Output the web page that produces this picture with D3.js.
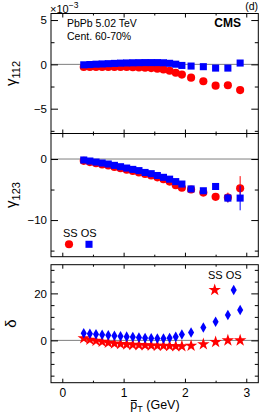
<!DOCTYPE html>
<html><head><meta charset="utf-8">
<script src="https://cdn.jsdelivr.net/npm/d3@7"></script>
<style>body{margin:0;background:#fff}svg{display:block;font-family:"Liberation Sans",Arial,sans-serif}</style>
</head><body>
<svg id="c" width="266" height="418"></svg>
<script>
// ---- data ----
const pt = [0.35,0.45,0.55,0.65,0.75,0.85,0.95,1.05,1.15,1.25,1.35,1.45,1.55,1.65,1.75,1.85,1.95,2.1,2.3,2.5,2.7,2.9];
const g112SS = [-0.3,-0.3,-0.3,-0.3,-0.3,-0.3,-0.3,-0.3,-0.32,-0.35,-0.38,-0.42,-0.48,-0.58,-0.72,-0.95,-1.15,-1.5,-1.9,-2.4,-2.35,-2.9];
const g112OS = [-0.05,-0.02,0.02,0.05,0.08,0.11,0.14,0.16,0.18,0.19,0.2,0.2,0.2,0.18,0.12,0.02,-0.12,-0.19,-0.26,-0.42,-0.42,0.15];
const g112Err = [0.02,0.02,0.02,0.02,0.02,0.02,0.02,0.02,0.02,0.03,0.03,0.03,0.03,0.04,0.04,0.05,0.05,0.06,0.08,0.1,0.15,0.25];
const g123SS = [-0.3,-0.5,-0.7,-0.9,-1.05,-1.3,-1.5,-1.75,-1.95,-2.2,-2.45,-2.7,-3.0,-3.3,-3.7,-4.3,-4.7,-5.0,-5.5,-6.2,-6.3,-4.8];
const g123OS = [-0.16,-0.33,-0.5,-0.66,-0.82,-1.04,-1.26,-1.48,-1.7,-1.9,-2.2,-2.4,-2.7,-3.0,-3.3,-3.7,-4.1,-4.9,-5.2,-4.5,-6.4,-6.4];
const g123ErrSS = [0.05,0.05,0.05,0.05,0.05,0.05,0.06,0.06,0.07,0.08,0.09,0.1,0.11,0.12,0.14,0.16,0.2,0.25,0.3,0.5,0.8,2.0];
const g123ErrOS = [0.05,0.05,0.05,0.05,0.05,0.05,0.06,0.06,0.07,0.08,0.09,0.1,0.11,0.12,0.14,0.16,0.2,0.25,0.3,0.5,0.7,2.0];
const deltaSS = [0.9,0.3,-0.2,-0.6,-1.0,-1.3,-1.5,-1.7,-1.9,-2.0,-2.1,-2.2,-2.3,-2.3,-2.4,-2.5,-2.5,-2.3,-1.6,-0.7,0.0,0.0];
const deltaOS = [3.0,2.8,2.6,2.4,2.2,2.0,1.8,1.6,1.4,1.2,1.0,0.9,0.8,0.8,1.0,1.5,2.5,3.4,5.5,7.9,10.8,12.9];
const xTicks = [0,1,2,3];
const legendLabels = ["SS","OS"];

const svg = d3.select("#c");
const L = 51, R = 258.3;
const x = d3.scaleLinear().domain([-0.184,3.196]).range([L,R]);
const RED = "#ff0000", BLUE = "#0000ff";
const SZ = {circle:52, square:50, star:48, diamond:32};

const panels = [
  {top:13.5, bot:133.5, dom:[-7.8,5.74], major:[-5,0,5], minorStep:2.5, title:["γ","112"], ty:73.5,
   series:[{v:g112SS,e:g112Err,c:RED,s:d3.symbolCircle,sz:SZ.circle},{v:g112OS,e:g112Err,c:BLUE,s:d3.symbolSquare,sz:SZ.square}]},
  {top:133.5, bot:256.7, dom:[-16.0,4.18], major:[-10,0], minorStep:5, title:["γ","123"], ty:195,
   series:[{v:g123SS,e:g123ErrSS,c:RED,s:d3.symbolCircle,sz:SZ.circle},{v:g123OS,e:g123ErrOS,c:BLUE,s:d3.symbolSquare,sz:SZ.square}]},
  {top:264.7, bot:382.7, dom:[-18,32.2], major:[0,20], minorStep:5, title:["δ",""], ty:323.5,
   series:[{v:deltaSS,e:null,c:RED,s:d3.symbolStar,sz:SZ.star},{v:deltaOS,e:null,c:BLUE,s:d3.symbolDiamond,sz:SZ.diamond}]}
];

panels.forEach((p,i)=>{
  const y = d3.scaleLinear().domain(p.dom).range([p.bot,p.top]);
  p.y = y;
  const g = svg.append("g");
  g.append("line").attr("x1",L).attr("x2",R).attr("y1",y(0)).attr("y2",y(0))
    .attr("stroke","#7f7f7f").attr("stroke-width",1);
  p.series.forEach(s=>{
    if(s.e){
      g.selectAll(null).data(pt).enter().append("line")
        .attr("x1",d=>x(d)).attr("x2",d=>x(d))
        .attr("y1",(d,j)=>y(s.v[j]-s.e[j])).attr("y2",(d,j)=>y(s.v[j]+s.e[j]))
        .attr("stroke",s.c).attr("stroke-width",1);
    }
    g.selectAll(null).data(pt).enter().append("path")
      .attr("d",d3.symbol().type(s.s).size(s.sz))
      .attr("transform",(d,j)=>`translate(${x(d)},${y(s.v[j])})`)
      .attr("fill",s.c);
  });
  const minors = d3.range(Math.ceil(p.dom[0]/p.minorStep)*p.minorStep, p.dom[1], p.minorStep).filter(v=>!p.major.includes(v));
  const ax = g.append("g").attr("transform",`translate(${L},0)`)
    .call(d3.axisLeft(y).tickValues(p.major).tickSizeInner(-7).tickSizeOuter(0).tickPadding(4));
  ax.selectAll("text").attr("font-size",11.5).attr("fill","#000");
  g.append("g").attr("transform",`translate(${L},0)`)
    .call(d3.axisLeft(y).tickValues(minors).tickSizeInner(-3.5).tickSizeOuter(0).tickFormat(""));
  g.append("g").attr("transform",`translate(${R},0)`)
    .call(d3.axisRight(y).tickValues(p.major).tickSizeInner(-7).tickSizeOuter(0).tickFormat(""));
  g.append("g").attr("transform",`translate(${R},0)`)
    .call(d3.axisRight(y).tickValues(minors).tickSizeInner(-3.5).tickSizeOuter(0).tickFormat(""));
  const xMinor = d3.range(0,3.2,0.5).filter(v=>!xTicks.includes(v));
  const bx = g.append("g").attr("transform",`translate(0,${p.bot})`)
    .call(d3.axisBottom(x).tickValues(xTicks).tickSizeInner(-4).tickSizeOuter(0).tickPadding(6)
      .tickFormat(i===2? d3.format("d") : ""));
  bx.selectAll("text").attr("font-size",12).attr("fill","#000");
  g.append("g").attr("transform",`translate(0,${p.bot})`)
    .call(d3.axisBottom(x).tickValues(xMinor).tickSizeInner(-2).tickSizeOuter(0).tickFormat(""));
  g.append("g").attr("transform",`translate(0,${p.top})`)
    .call(d3.axisTop(x).tickValues(xTicks).tickSizeInner(-4).tickSizeOuter(0).tickFormat(""));
  g.append("g").attr("transform",`translate(0,${p.top})`)
    .call(d3.axisTop(x).tickValues(xMinor).tickSizeInner(-2).tickSizeOuter(0).tickFormat(""));
  g.selectAll(".domain").remove();
  g.selectAll(".tick line").attr("stroke","#000");
  g.append("rect").attr("x",L).attr("y",p.top).attr("width",R-L).attr("height",p.bot-p.top)
    .attr("fill","none").attr("stroke","#000").attr("stroke-width",1);
  const t = svg.append("text").attr("transform",`translate(16,${p.ty}) rotate(-90)`)
    .attr("text-anchor","middle").attr("font-size",15).attr("fill","#000");
  t.append("tspan").text(p.title[0]);
  if(p.title[1]) t.append("tspan").attr("font-size",11).attr("dy",4).text(p.title[1]);
});

// header texts
const hx = svg.append("text").attr("x",50).attr("y",13).attr("font-size",11).attr("fill","#000");
hx.append("tspan").text("×10");
hx.append("tspan").attr("font-size",8.5).attr("dy",-5).text("−3");
svg.append("text").attr("x",258).attr("y",10).attr("text-anchor","end").attr("font-size",10.5).text("(d)");
svg.append("text").attr("x",241).attr("y",27).attr("text-anchor","end").attr("font-size",12)
  .attr("font-weight","bold").text("CMS");
svg.append("text").attr("x",67).attr("y",27).attr("font-size",10.5).text("PbPb 5.02 TeV");
svg.append("text").attr("x",67).attr("y",40).attr("font-size",10.5).text("Cent. 60-70%");

// legends
svg.append("text").attr("x",63).attr("y",237).attr("font-size",11).text(legendLabels.join(" "));
svg.append("path").attr("d",d3.symbol().type(d3.symbolCircle).size(SZ.circle)()).attr("transform","translate(69,244.3)").attr("fill",RED);
svg.append("path").attr("d",d3.symbol().type(d3.symbolSquare).size(SZ.square)()).attr("transform","translate(89,244.3)").attr("fill",BLUE);
svg.append("text").attr("x",208).attr("y",279).attr("font-size",11).text(legendLabels.join(" "));
svg.append("path").attr("d",d3.symbol().type(d3.symbolStar).size(SZ.star)()).attr("transform","translate(214.7,290)").attr("fill",RED);
svg.append("path").attr("d",d3.symbol().type(d3.symbolDiamond).size(SZ.diamond)()).attr("transform","translate(233.7,290)").attr("fill",BLUE);

// x title
const xt = svg.append("text").attr("x",155).attr("y",409).attr("text-anchor","middle").attr("font-size",12.5).attr("fill","#000");
const pspan = xt.append("tspan").text("p");
xt.append("tspan").attr("font-size",9).attr("dy",3).text("T");
xt.append("tspan").attr("dy",-3).text(" (GeV)");
const e = pspan.node().getExtentOfChar(0);
svg.append("line").attr("x1",e.x+0.5).attr("x2",e.x+e.width-0.5).attr("y1",e.y+2.5).attr("y2",e.y+2.5)
  .attr("stroke","#000").attr("stroke-width",1);
</script>
</body></html>
